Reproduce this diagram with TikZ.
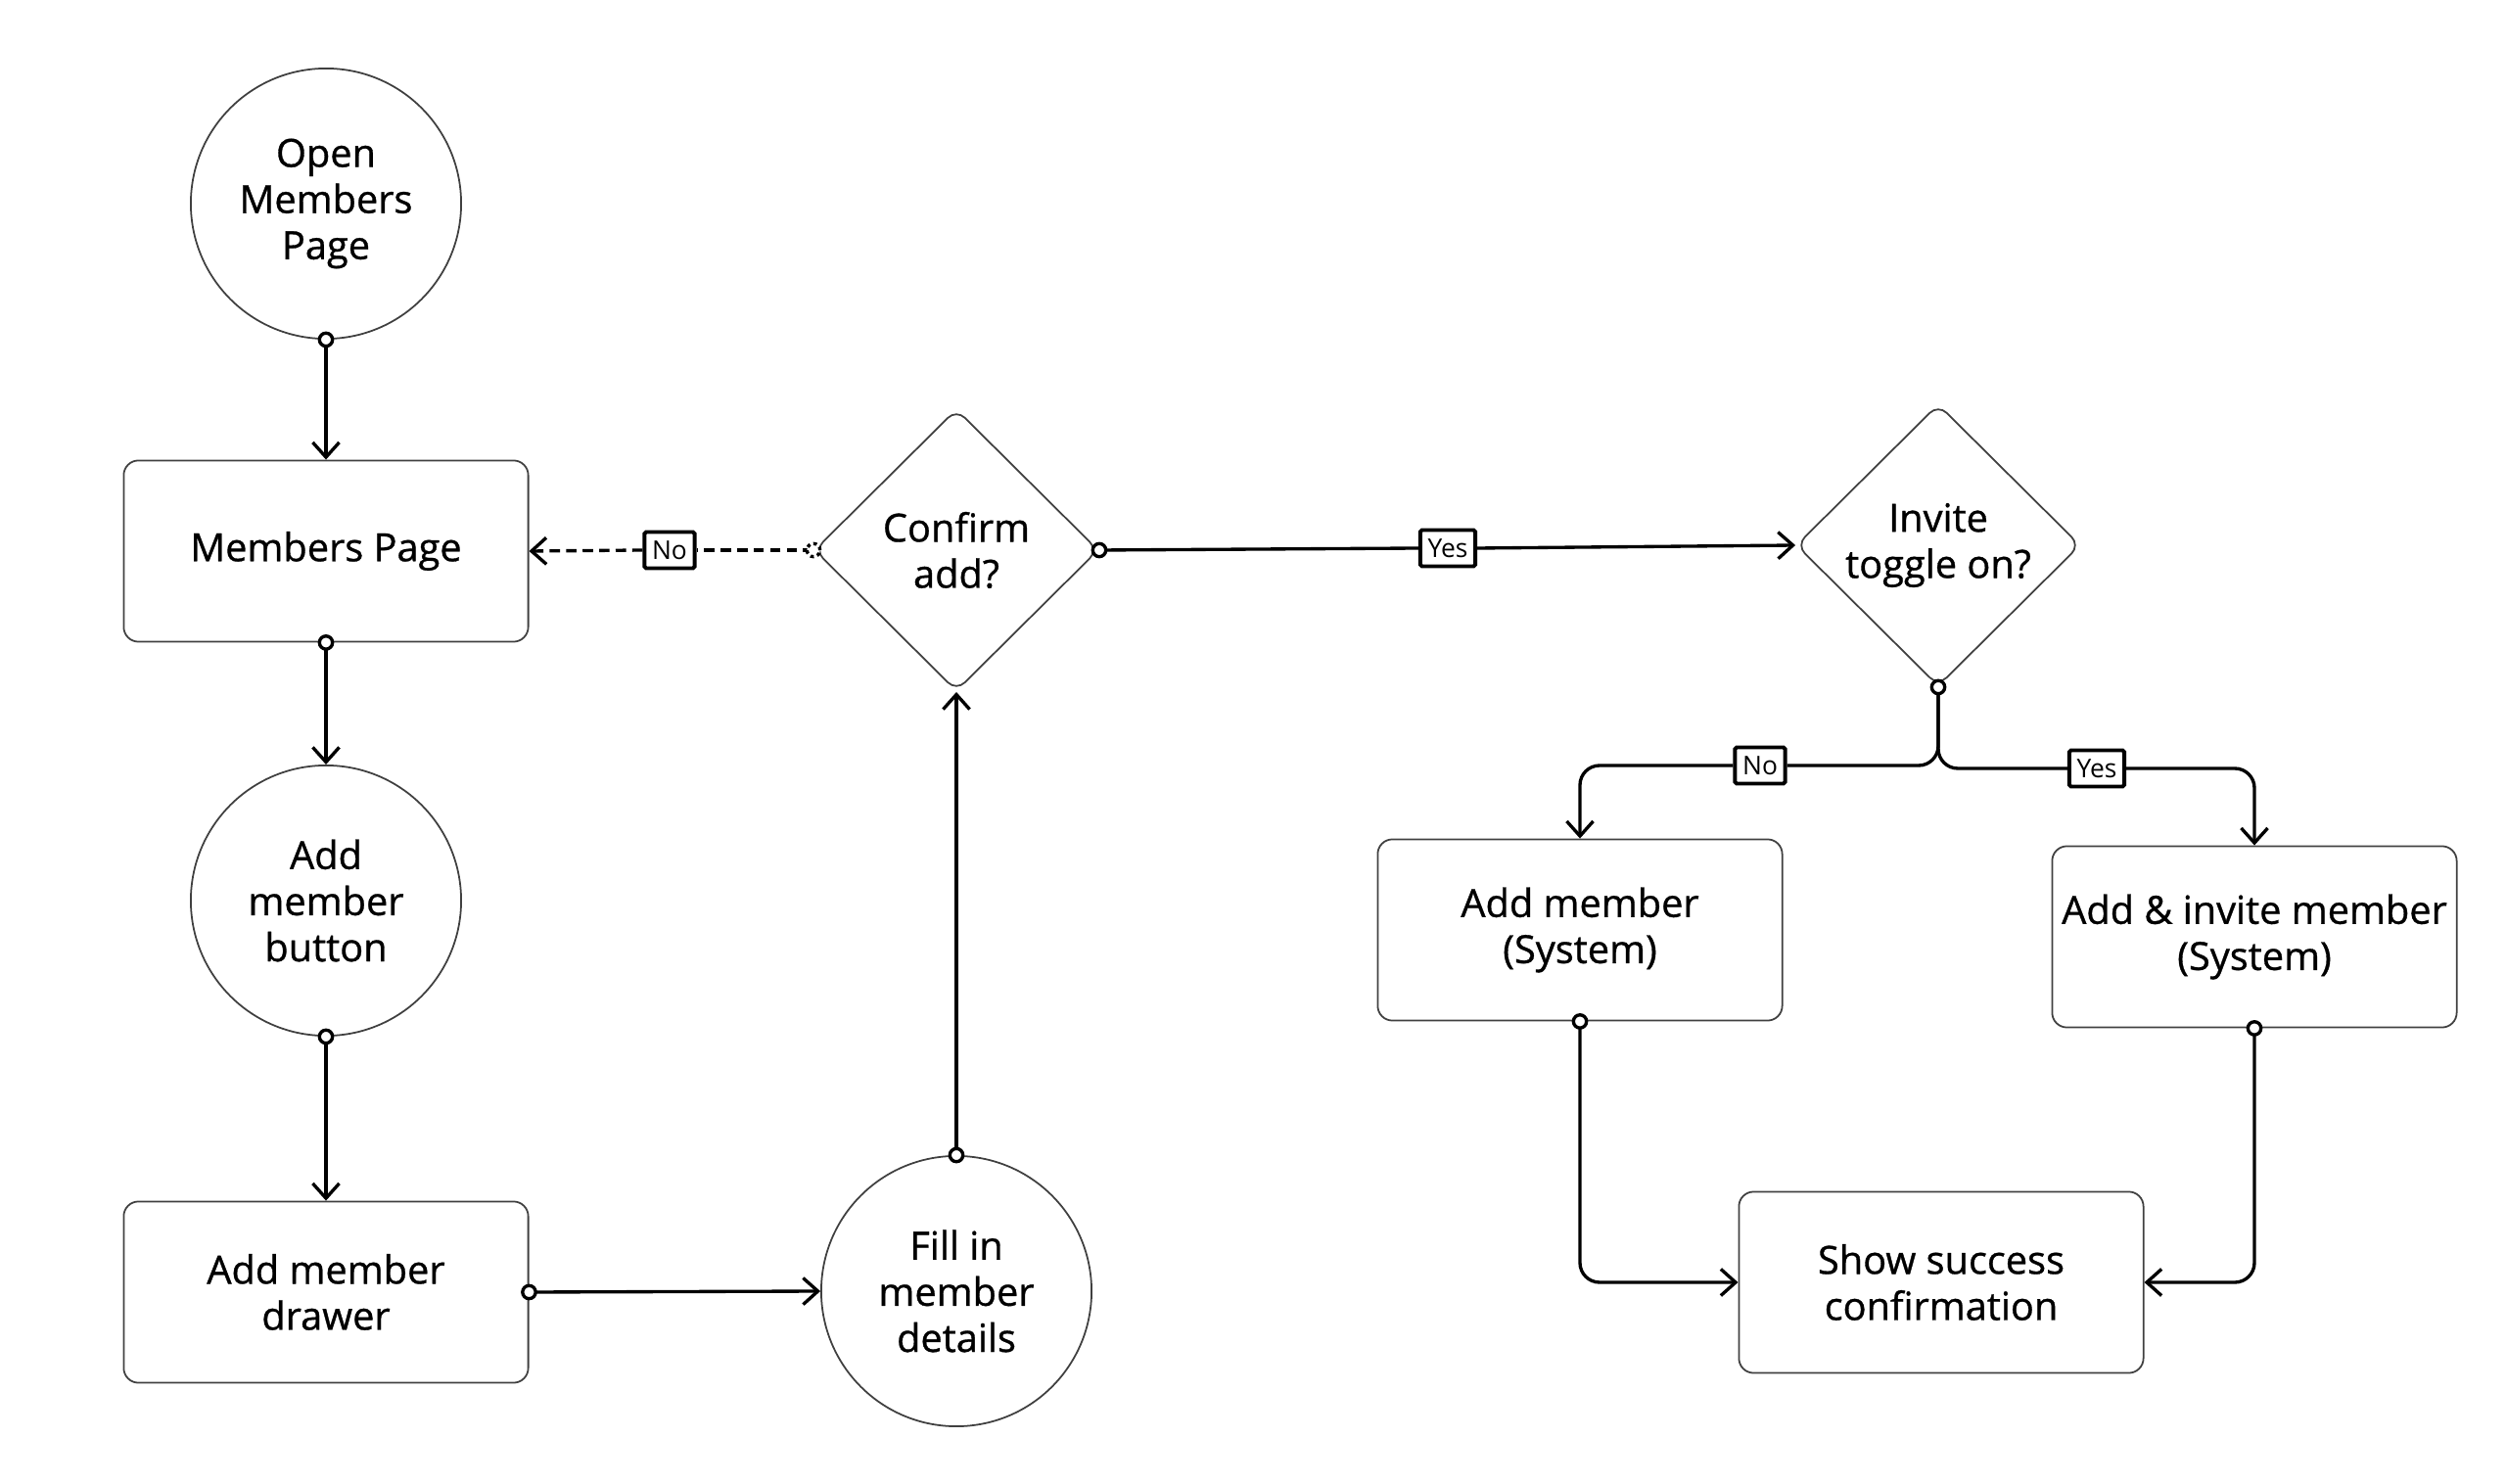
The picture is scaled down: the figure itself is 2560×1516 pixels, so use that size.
\documentclass[tikz,border=0pt]{standalone}
\usepackage{fontspec}
\setmainfont{Open Sans}
\newfontfamily\nodefont{Open Sans}[FakeBold=0.8]
\usetikzlibrary{shapes.geometric,arrows.meta,calc}
\tikzset{
  base/.style={draw=black!75, line width=0.5pt, align=center, font=\nodefont\fontsize{11.3}{13.4}\selectfont, inner sep=0pt},
  circ/.style={base, circle, minimum size=2.76cm},
  box/.style={base, rectangle, rounded corners=0.15cm, minimum width=4.13cm, minimum height=1.85cm},
  dia/.style={base, diamond, aspect=1, minimum width=2.9cm, minimum height=2.88cm, rounded corners=0.12cm},
  lab/.style={draw=black, line width=1.1pt, rounded corners=0.5pt, fill=white, font=\fontsize{7.5}{8.5}\selectfont, inner xsep=2.2pt, inner ysep=0pt, minimum height=0.37cm},
  conn/.style={line width=0.95pt, -{Straight Barb[length=4.3pt,width=7.7pt]}},
  seg/.style={line width=0.95pt},
  dotst/.style={line width=0.95pt, fill=white},
  dsh/.style={dash pattern=on 3pt off 1.8pt},
}
\newcommand\startdot[2][]{\draw[dotst,#1] (#2) circle[radius=1.9pt];}
\begin{document}
\begin{tikzpicture}[x=0.01cm,y=-0.01cm]
\useasboundingbox (0,0) rectangle (2560,1516);
% nodes
\node[circ] (open) at (333,208) {Open\\Members\\Page};
\node[box] (members) at (333,563) {Members Page};
\node[circ] (button) at (333,920) {Add\\member\\button};
\node[box] (drawer) at (333,1320) {Add member\\drawer};
\node[circ] (fill) at (977,1319) {Fill in\\member\\details};
\node[dia] (confirm) at (977,562) {Confirm\\add?};
\node[dia] (invite) at (1980,557) {Invite\\toggle on?};
\node[box] (addm) at (1614,950) {Add member\\(System)};
\node[box] (addinv) at (2303,957) {Add \& invite member\\(System)};
\node[box] (show) at (1983,1310) {Show success\\confirmation};
% labels
\node[lab] (no1) at (684,562) {No};
\node[lab] (yes1) at (1479,560) {Yes};
\node[lab] (no2) at (1798,782) {No};
\node[lab] (yes2) at (2142,785) {Yes};
% connectors
\draw[conn] (open.south) -- (members.north);
\startdot{open.south}
\draw[conn] (members.south) -- (button.north);
\startdot{members.south}
\draw[conn] (button.south) -- (drawer.north);
\startdot{button.south}
\draw[conn] (drawer.east) -- (fill.west);
\startdot{drawer.east}
\draw[conn] (fill.north) -- (confirm.south);
\startdot{fill.north}
\draw[seg,dsh] (confirm.west) -- (no1.east);
\draw[conn,dsh] (no1.west) -- (members.east);
\startdot[dash pattern=on 1pt off 1pt]{confirm.west}
\draw[seg] (confirm.east) -- (yes1.west);
\draw[conn] (yes1.east) -- (invite.west);
\startdot{confirm.east}
\draw[seg, rounded corners=0.2cm] (invite.south) |- (no2.east);
\draw[conn, rounded corners=0.2cm] (no2.west) -| (addm.north);
\draw[seg, rounded corners=0.2cm] (invite.south) |- (yes2.west);
\draw[conn, rounded corners=0.2cm] (yes2.east) -| (addinv.north);
\startdot{invite.south}
\draw[conn, rounded corners=0.2cm] (addm.south) |- (show.west);
\startdot{addm.south}
\draw[conn, rounded corners=0.2cm] (addinv.south) |- (show.east);
\startdot{addinv.south}
\end{tikzpicture}
\end{document}
